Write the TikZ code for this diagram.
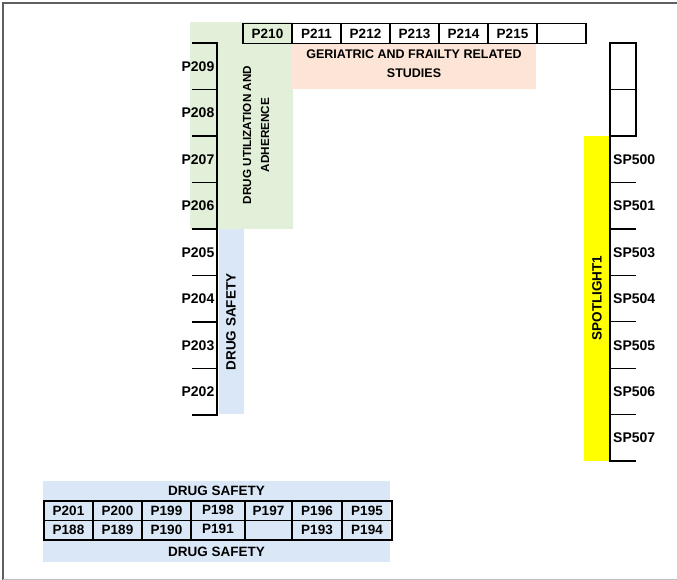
\documentclass[tikz,border=0pt]{standalone}
\usepackage{fontspec}
\setmainfont{Liberation Sans}
\usetikzlibrary{positioning}
\definecolor{utilGreen}{RGB}{226, 240, 217}
\definecolor{safetyBlue}{RGB}{218, 231, 246}
\definecolor{geriPeach}{RGB}{252, 228, 214}
\definecolor{spotYellow}{RGB}{255, 255, 0}
\definecolor{frameGray}{RGB}{95, 95, 95}

\begin{document}
\begin{tikzpicture}[
        x=1pt, y=-1pt,
        cell/.style={rectangle, draw=black, line width=1.3pt, outer sep=0pt, inner sep=0pt, minimum width=49pt, minimum height=19.5pt, font=\fontsize{13.5}{13.5}\selectfont\bfseries},
        tick/.style={black, line width=1.3pt},
        plab/.style={inner sep=0pt, font=\fontsize{14}{14}\selectfont\bfseries},
        vlab/.style={rotate=90, align=center, inner sep=0pt, font=\fontsize{13.5}{15}\selectfont\bfseries},
        hlab/.style={align=center, inner sep=0pt, font=\fontsize{12.5}{19}\selectfont\bfseries}
    ]
        \useasboundingbox (0,0) rectangle (677,580);

        % Frame
        \draw[frameGray, line width=1.6pt] (3,580) -- (3,3) -- (677,3);
        \draw[frameGray!40, line width=0.8pt] (3,579) -- (677,579);

        % Bands
        \fill[utilGreen] (190,22) rectangle (293,229);
        \fill[safetyBlue] (219,229) rectangle (244,414);
        \fill[geriPeach] (292,43) rectangle (536,89);
        \fill[spotYellow] (584,136) rectangle (610,461);
        \fill[safetyBlue] (43,481) rectangle (390,562);

        % Band labels
        \node[vlab, font=\fontsize{11.7}{18}\selectfont\bfseries] (util) at (256,135) {DRUG UTILIZATION AND\\ADHERENCE};
        \node[vlab] (safetyV) at (231,322) {DRUG SAFETY};
        \node[hlab] (geri) at (414,63.5) {GERIATRIC AND FRAILTY RELATED\\STUDIES};
        \node[vlab] (spot) at (597,298) {SPOTLIGHT1};
        \node[hlab, font=\fontsize{13.5}{13.5}\selectfont\bfseries] (safetyT) at (216.5,491) {DRUG SAFETY};
        \node[hlab, font=\fontsize{13.5}{13.5}\selectfont\bfseries] (safetyB) at (216.5,551.5) {DRUG SAFETY};

        % Top row
        \node[cell] (p210) at (267.5,33.5) {P210};
        \node[cell, right=0pt of p210] (p211) {P211};
        \node[cell, right=0pt of p211] (p212) {P212};
        \node[cell, right=0pt of p212] (p213) {P213};
        \node[cell, right=0pt of p213] (p214) {P214};
        \node[cell, right=0pt of p214] (p215) {P215};
        \node[cell, right=0pt of p215] (p216) {};

        % Left ladder
        \draw[tick] (217,43) -- (217,415);
        \foreach \k in {0,...,8}
            \draw[tick] (192,43+46.5*\k) -- (217.65,43+46.5*\k);
        \foreach \lab [count=\i from 0] in {209,208,207,206,205,204,203,202}
            \node[plab, anchor=east] (p\lab) at (214.5,66.5+46.5*\i) {P\lab};

        % Right ladder
        \node[cell, minimum width=26pt, minimum height=46.5pt, anchor=north west] (sbox1) at (610,43) {};
        \node[cell, minimum width=26pt, minimum height=46.5pt, below=0pt of sbox1] (sbox2) {};
        \draw[tick] (sbox2.south west) -- (610,461);
        \foreach \k in {1,...,7}
            \draw[tick] (609.35,136+46.43*\k) -- (636,136+46.43*\k);
        \foreach \lab [count=\i from 0] in {500,501,503,504,505,506,507}
            \node[plab, anchor=west] (sp\lab) at (613,159.5+46.43*\i) {SP\lab};

        % Bottom table
        \node[cell, anchor=north west] (p201) at (44,501) {P201};
        \node[cell, right=0pt of p201] (p200) {P200};
        \node[cell, right=0pt of p200] (p199) {P199};
        \node[cell, minimum width=54pt, right=0pt of p199] (p198) {\raisebox{2pt}{P198}};
        \node[cell, minimum width=47pt, right=0pt of p198] (p197) {P197};
        \node[cell, minimum width=50pt, right=0pt of p197] (p196) {P196};
        \node[cell, minimum width=50pt, right=0pt of p196] (p195) {P195};
        \node[cell, below=0pt of p201] (p188) {P188};
        \node[cell, below=0pt of p200] (p189) {P189};
        \node[cell, below=0pt of p199] (p190) {P190};
        \node[cell, minimum width=54pt, below=0pt of p198] (p191) {\raisebox{2pt}{P191}};
        \node[cell, minimum width=47pt, below=0pt of p197] (p192) {};
        \node[cell, minimum width=50pt, below=0pt of p196] (p193) {P193};
        \node[cell, minimum width=50pt, below=0pt of p195] (p194) {P194};
    \end{tikzpicture}
\end{document}
